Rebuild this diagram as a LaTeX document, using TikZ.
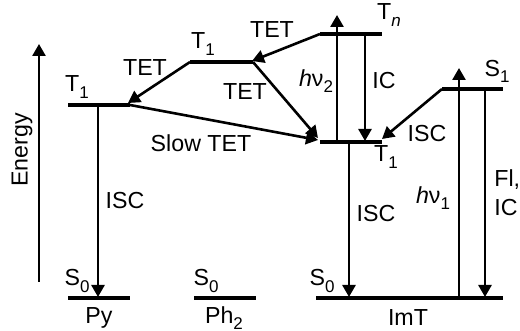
\documentclass[tikz,border=0pt]{standalone}
\usepackage{fontspec}
\setmainfont{Liberation Sans}
\usetikzlibrary{arrows.meta}
\newcommand\lsub[1]{\raisebox{-0.5ex}{\fontsize{8.5}{9}\selectfont #1}}
\begin{document}
\begin{tikzpicture}[x=0.5pt,y=-0.5pt,
  level/.style={line width=2.4pt},
  trans/.style={line width=1.3pt,-{Triangle[length=6pt,width=6.5pt]}},
  lbl/.style={inner sep=0pt,font=\fontsize{11.6}{13}\selectfont}]
\useasboundingbox (0,0) rectangle (520,331);
% level endpoints
\coordinate (pyT1a) at (68,105); \coordinate (pyT1b) at (130,105);
\coordinate (pyS0a) at (68,298); \coordinate (pyS0b) at (130,298);
\coordinate (phT1a) at (190,62); \coordinate (phT1b) at (253,62);
\coordinate (phS0a) at (194,298); \coordinate (phS0b) at (256,298);
\coordinate (imTna) at (320,34); \coordinate (imTnb) at (382,34);
\coordinate (imT1a) at (320,142); \coordinate (imT1b) at (382,142);
\coordinate (imS1a) at (442,89); \coordinate (imS1b) at (503,89);
\coordinate (imS0a) at (316,298); \coordinate (imS0b) at (503,298);
\draw[level] (pyT1a) -- (pyT1b);
\draw[level] (pyS0a) -- (pyS0b);
\draw[level] (phT1a) -- (phT1b);
\draw[level] (phS0a) -- (phS0b);
\draw[level] (imTna) -- (imTnb);
\draw[level] (imT1a) -- (imT1b);
\draw[level] (imS1a) -- (imS1b);
\draw[level] (imS0a) -- (imS0b);
% arrow end points
\coordinate (eA) at (39,282); \coordinate (eB) at (39,44);
\coordinate (pyI1) at (98,105); \coordinate (pyI2) at (98,297);
\coordinate (tetA) at (128,103);
\coordinate (tetB) at (252,61);
\coordinate (tetC) at (318,138);
\coordinate (tetD) at (318,140);
\coordinate (iscA) at (382,139);
\coordinate (hv2a) at (337,142); \coordinate (hv2b) at (337,15);
\coordinate (ica) at (365,34); \coordinate (icb) at (365,141);
\coordinate (hv1a) at (459,298); \coordinate (hv1b) at (459,68);
\coordinate (fla) at (485,89); \coordinate (flb) at (485,297);
\coordinate (isa) at (349,142); \coordinate (isb) at (349,297);
% transitions
\draw[trans] (eA) -- (eB);
\draw[trans] (pyI1) -- (pyI2);
\draw[trans] (phT1a) -- (tetA);
\draw[trans] (imTna) -- (tetB);
\draw[trans] (phT1b) -- (tetC);
\draw[trans] (pyT1b) -- (tetD);
\draw[trans] (imS1a) -- (iscA);
\draw[trans] (hv2a) -- (hv2b);
\draw[trans] (ica) -- (icb);
\draw[trans] (hv1a) -- (hv1b);
\draw[trans] (fla) -- (flb);
\draw[trans] (isa) -- (isb);
% labels
\node[lbl,rotate=90] (energy) at (22,150) {Energy};
\node[lbl] (lpyT1) at (77,87) {T\lsub{1}};
\node[lbl] (lpyS0) at (77,281) {S\lsub{0}};
\node[lbl] (lpy) at (99,318) {Py};
\node[lbl] (lphT1) at (203,44) {T\lsub{1}};
\node[lbl] (lphS0) at (206,281) {S\lsub{0}};
\node[lbl] (lph) at (224,318) {Ph\lsub{2}};
\node[lbl] (lTn) at (389,15) {T\lsub{\itshape n}};
\node[lbl] (lS1) at (497,71) {S\lsub{1}};
\node[lbl] (limT1) at (386,157) {T\lsub{1}};
\node[lbl] (limS0) at (322,281) {S\lsub{0}};
\node[lbl] (lim) at (408,318) {ImT};
\node[lbl] (ltet1) at (145,68) {TET};
\node[lbl] (ltet2) at (272,30) {TET};
\node[lbl] (ltet3) at (245,92) {TET};
\node[lbl] (lslow) at (201,143) {Slow TET};
\node[lbl] (lpyisc) at (125,201) {ISC};
\node[lbl] (lhv2) at (316,81) {\textit{h}ν\lsub{2}};
\node[lbl] (lic) at (384,81) {IC};
\node[lbl] (lisc2) at (427,134) {ISC};
\node[lbl] (lisc3) at (376,214) {ISC};
\node[lbl] (lhv1) at (433,198) {\textit{h}ν\lsub{1}};
\node[lbl,anchor=west] (lfl) at (494,180) {Fl,};
\node[lbl,anchor=west] (lic2) at (494,208) {IC};
\end{tikzpicture}
\end{document}
